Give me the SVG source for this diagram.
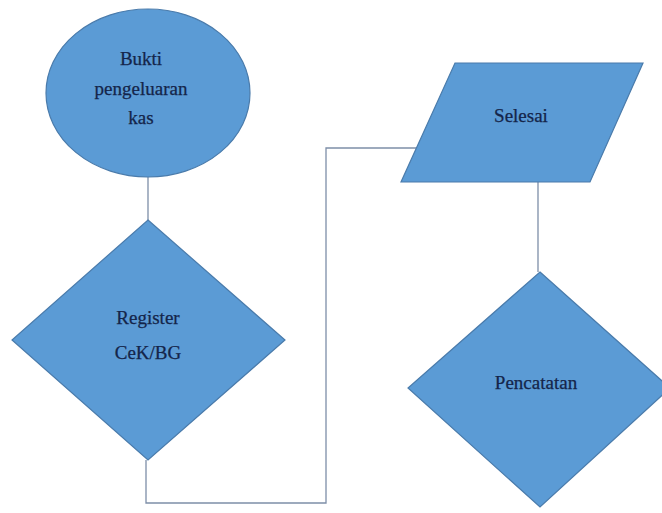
<svg xmlns="http://www.w3.org/2000/svg" width="662" height="513" viewBox="0 0 662 513">
<style>
.shape{fill:#5b9bd5;stroke:#4a7bab;stroke-width:1.2}
.lbl{font-family:"Liberation Serif","Times New Roman",serif;font-size:19px;fill:#14254a;stroke:#14254a;stroke-width:0.25;text-anchor:middle}
.conn{fill:none;stroke:#7d8ea8;stroke-width:1.3}
</style>
<rect width="662" height="513" fill="#ffffff"/>
<g id="connectors">
<path class="conn" d="M148 177 V220"/>
<path class="conn" d="M146 460 V503 H326 V148 H416"/>
<path class="conn" d="M538 182 V272"/>
</g>
<g id="bukti">
<ellipse class="shape" cx="148" cy="93" rx="102" ry="84"/>
<text class="lbl" x="141" y="65">Bukti</text>
<text class="lbl" x="141" y="95">pengeluaran</text>
<text class="lbl" x="141" y="124">kas</text>
</g>
<g id="register">
<polygon class="shape" points="148,220 285,340 148,460 12,340"/>
<text class="lbl" x="148" y="324">Register</text>
<text class="lbl" x="148" y="359">CeK/BG</text>
</g>
<g id="selesai">
<polygon class="shape" points="455,63 643,63 590,182 401,182"/>
<text class="lbl" x="521" y="122">Selesai</text>
</g>
<g id="pencatatan">
<polygon class="shape" points="540,272 670,388 540,507 408,388"/>
<text class="lbl" x="536" y="389">Pencatatan</text>
</g>
</svg>
